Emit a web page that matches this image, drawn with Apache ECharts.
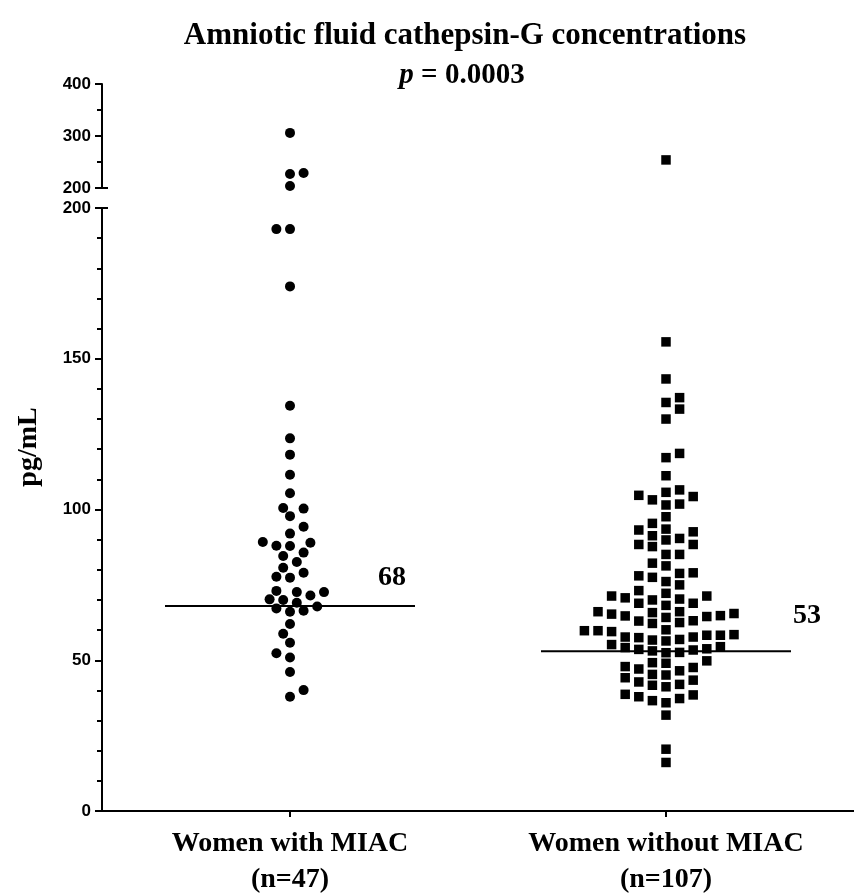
<!DOCTYPE html>
<html>
<head>
<meta charset="utf-8">
<script src="https://cdn.jsdelivr.net/npm/echarts@6/dist/echarts.min.js"></script>
<style>
  html, body { margin: 0; padding: 0; background: #fff; }
  #chart { width: 854px; height: 893px; }
</style>
</head>
<body>
<div id="chart"></div>
<script>
// Group names and sample sizes shown under the x axis
const groups = ['Women with MIAC', 'Women without MIAC'];
const groupN = ['(n=47)', '(n=107)'];

// Amniotic fluid cathepsin-G, pg/mL
const miacValues = [
  306, 229, 227, 204, 193, 193, 174,
  134.4, 123.6, 118.2, 111.5, 105.4, 100.5, 100.3, 97.8, 94.3, 92.0,
  89.2, 89.0, 88.0, 87.9, 85.7, 84.6, 82.6, 80.7, 79.0, 77.7,
  77.4, 73.0, 72.6, 72.6, 71.5, 70.2, 70.0, 69.1, 67.8, 67.2,
  66.4, 66.1, 62.0, 58.8, 55.8, 52.3, 50.9, 46.1, 40.1, 37.9
];
const noMiacValues = [
  254, 155.6, 143.3, 137.1, 135.5, 133.3, 130.0, 118.6, 117.2, 111.2,
  106.5, 105.7, 104.7, 104.3, 103.2, 101.8, 101.5, 97.6, 95.4, 93.5,
  93.2, 92.6, 91.3, 90.4, 89.9, 88.4, 88.4, 87.7, 85.1, 85.1,
  82.2, 81.3, 79.0, 78.8, 78.0, 77.5, 76.1, 75.0, 73.1, 72.2,
  71.3, 71.3, 70.7, 70.3, 70.0, 68.9, 68.9, 68.2, 66.1, 66.1,
  65.8, 65.5, 65.3, 64.8, 64.7, 64.5, 64.2, 63.1, 63.0, 62.5,
  62.2, 60.1, 59.8, 59.8, 59.5, 58.5, 58.3, 58.3, 57.7, 57.7,
  57.5, 56.9, 56.7, 56.4, 55.2, 54.5, 54.2, 53.8, 53.6, 53.4,
  53.1, 52.6, 52.5, 49.8, 49.2, 49.0, 47.9, 47.6, 47.1, 46.5,
  45.3, 45.1, 44.2, 43.4, 42.8, 42.0, 41.7, 41.2, 38.7, 38.5,
  37.9, 37.3, 36.6, 35.9, 31.8, 20.5, 16.1
];

// Medians printed beside each group
const medians = [68, 53];

// Broken y axis: lower and upper segment ranges and tick steps
const lowerRange = [0, 200];
const upperRange = [200, 400];
const lowerStep = 50;
const upperStep = 100;

// Group centres on the hidden numeric x axis
const groupCenters = [1, 3];
const xRange = [0, 4];

const serif = '"Liberation Serif", "Times New Roman", serif';
const sans = '"Liberation Sans", Arial, sans-serif';

const chart = echarts.init(document.getElementById('chart'), null, { renderer: 'canvas' });

const axisLineStyle = { color: '#000', width: 2 };
const yLabelStyle = { color: '#000', fontFamily: sans, fontWeight: 'bold', fontSize: 17, margin: 11 };

function valueYAxis(gridIndex, range, step, minorSplit) {
  return {
    type: 'value', gridIndex: gridIndex, position: 'left', min: range[0], max: range[1], interval: step,
    axisLine: { show: true, lineStyle: axisLineStyle },
    axisTick: { show: true, length: 7, lineStyle: { color: '#000', width: 2 } },
    minorTick: { show: true, splitNumber: minorSplit, length: 5, lineStyle: { color: '#000', width: 2 } },
    axisLabel: yLabelStyle,
    splitLine: { show: false }
  };
}

// Short inward caps where the axis is broken
function capAxis(gridIndex, range) {
  return {
    type: 'value', gridIndex: gridIndex, position: 'left', min: range[0], max: range[1],
    axisLine: { show: false },
    axisTick: { show: true, inside: true, length: 6, customValues: [200], lineStyle: { color: '#000', width: 2 } },
    axisLabel: { show: false },
    splitLine: { show: false }
  };
}

const baseOption = {
  animation: false,
  backgroundColor: '#fff',
  grid: [
    { left: 102, top: 84, width: 752, height: 104, outerBoundsMode: 'none' },
    { left: 102, top: 208, width: 752, height: 603, outerBoundsMode: 'none' }
  ],
  xAxis: [
    { type: 'value', gridIndex: 0, position: 'bottom', min: xRange[0], max: xRange[1], show: false },
    { type: 'value', gridIndex: 1, position: 'bottom', min: xRange[0], max: xRange[1], show: false },
    {
      type: 'category', gridIndex: 1, position: 'bottom', data: groups, boundaryGap: true,
      axisLine: { show: true, lineStyle: axisLineStyle },
      axisTick: { show: true, alignWithLabel: true, length: 6, lineStyle: { color: '#000', width: 2 } },
      axisLabel: {
        color: '#000', fontFamily: serif, fontWeight: 'bold', fontSize: 28, lineHeight: 36, margin: 15,
        formatter: function (v, i) { return v + '\n' + groupN[i]; }
      },
      splitLine: { show: false }
    }
  ],
  yAxis: [
    valueYAxis(0, upperRange, upperStep, 2),
    valueYAxis(1, lowerRange, lowerStep, 5),
    capAxis(0, upperRange),
    capAxis(1, lowerRange)
  ],
  graphic: [
    {
      type: 'text', x: 465, y: 36,
      style: {
        text: 'Amniotic fluid cathepsin-G concentrations',
        font: 'bold 31px ' + serif, fill: '#000', textAlign: 'center', textVerticalAlign: 'middle'
      }
    },
    {
      type: 'text', x: 462, y: 76,
      style: {
        text: '{i|p} = 0.0003',
        font: 'bold 29px ' + serif, fill: '#000', textAlign: 'center', textVerticalAlign: 'middle',
        rich: { i: { fontStyle: 'italic', fontWeight: 'bold', fontSize: 29, fontFamily: serif, fill: '#000' } }
      }
    },
    {
      type: 'text', x: 29, y: 447, rotation: Math.PI / 2,
      style: {
        text: 'pg/mL', font: 'bold 28px ' + serif, fill: '#000',
        textAlign: 'center', textVerticalAlign: 'middle'
      }
    }
  ],
  series: []
};

chart.setOption(baseOption);

// Pixel y of a value on whichever segment it belongs to
function yPixel(v) {
  if (v > lowerRange[1]) {
    return chart.convertToPixel({ xAxisIndex: 0, yAxisIndex: 0 }, [0, v])[1];
  }
  return chart.convertToPixel({ xAxisIndex: 1, yAxisIndex: 1 }, [0, v])[1];
}

const pxPerUnit = chart.convertToPixel({ xAxisIndex: 1, yAxisIndex: 1 }, [1, 0])[0] -
                  chart.convertToPixel({ xAxisIndex: 1, yAxisIndex: 1 }, [0, 0])[0];

// Column scatter layout: each point takes the nearest free horizontal slot
const STEP = 6.8;
function swarm(values, square) {
  const D = 10.5;
  const order = values.map(function (v, i) { return i; }).sort(function (a, b) { return values[a] - values[b]; });
  const placed = [];
  const offsets = new Array(values.length);
  order.forEach(function (i, n) {
    const py = yPixel(values[i]);
    for (let k = 0; k < 200; k++) {
      const cands = k === 0 ? [0] : (n % 2 ? [k * STEP, -k * STEP] : [-k * STEP, k * STEP]);
      let found = null;
      for (const dx of cands) {
        const ok = placed.every(function (p) {
          const ddx = Math.abs(p.dx - dx), ddy = Math.abs(p.py - py);
          return square ? (ddx >= D || ddy >= D) : (ddx * ddx + ddy * ddy >= D * D);
        });
        if (ok) { found = dx; break; }
      }
      if (found !== null) { offsets[i] = found; placed.push({ dx: found, py: py }); break; }
    }
  });
  return offsets;
}

const groupValues = [miacValues, noMiacValues];
const symbols = ['circle', 'rect'];
const symbolSizes = [10, 9.5];
const MEDIAN_HALF_PX = 125;
const medianLabelOffsets = [[-23, -28], [16, -35]];

const series = [];
groupValues.forEach(function (vals, g) {
  const offs = swarm(vals, g === 1);
  const upper = [], lower = [];
  vals.forEach(function (v, i) {
    const pt = [groupCenters[g] + offs[i] / pxPerUnit, v];
    (v > lowerRange[1] ? upper : lower).push(pt);
  });
  const common = {
    type: 'scatter', symbol: symbols[g], symbolSize: symbolSizes[g],
    itemStyle: { color: '#000', opacity: 1 }, silent: true
  };
  series.push(Object.assign({}, common, { xAxisIndex: 0, yAxisIndex: 0, data: upper }));
  series.push(Object.assign({}, common, { xAxisIndex: 1, yAxisIndex: 1, data: lower }));

  const half = MEDIAN_HALF_PX / pxPerUnit;
  series.push({
    type: 'line', xAxisIndex: 1, yAxisIndex: 1, silent: true,
    symbol: 'none', lineStyle: { color: '#000', width: 2 },
    data: [[groupCenters[g] - half, medians[g]], [groupCenters[g] + half, medians[g]]]
  });
  series.push({
    type: 'scatter', xAxisIndex: 1, yAxisIndex: 1, silent: true,
    symbolSize: 1, itemStyle: { color: 'rgba(0,0,0,0)', opacity: 1 },
    label: {
      show: true, position: 'inside', offset: medianLabelOffsets[g],
      color: '#000', fontFamily: serif, fontWeight: 'bold', fontSize: 28,
      formatter: function (p) { return String(p.value[1]); }
    },
    data: [[groupCenters[g] + half, medians[g]]]
  });
});

chart.setOption({ series: series });
</script>
</body>
</html>
